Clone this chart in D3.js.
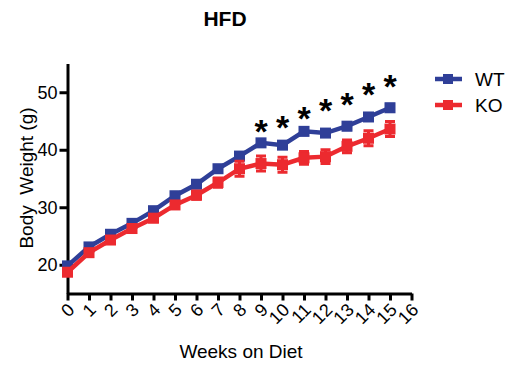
<!DOCTYPE html>
<html>
<head>
<script src="https://cdn.jsdelivr.net/npm/d3@7"></script>
<style>
  body { margin: 0; background: #fff; }
  text { font-family: "Liberation Sans", Arial, sans-serif; }
</style>
</head>
<body>
<script>
// weeks on diet
var weeks = [0, 1, 2, 3, 4, 5, 6, 7, 8, 9, 10, 11, 12, 13, 14, 15];
// mean body weight (g)
var wtMean = [19.8, 23.1, 25.3, 27.2, 29.4, 32.0, 34.0, 36.7, 38.9, 41.2, 40.8, 43.2, 42.9, 44.1, 45.7, 47.3];
var wtErr  = [0.4, 0.4, 0.4, 0.4, 0.4, 0.5, 0.5, 0.5, 0.5, 0.5, 0.6, 0.6, 0.6, 0.6, 0.6, 0.6];
var koMean = [18.7, 22.1, 24.3, 26.3, 28.1, 30.4, 32.1, 34.3, 36.7, 37.6, 37.4, 38.6, 38.8, 40.6, 42.0, 43.6];
var koErr  = [0.5, 0.5, 0.6, 0.6, 0.6, 0.6, 0.7, 0.8, 1.3, 1.3, 1.3, 1.1, 1.2, 1.1, 1.3, 1.3];
// significance marks (week, height in g)
var sigWeeks = [9, 10, 11, 12, 13, 14, 15];
var sigY = [44.5, 45.2, 46.7, 48.1, 49.2, 51.0, 52.3];
var xTicks = d3.range(0, 17);
var yTicks = [20, 30, 40, 50];

var blue = "#2f3f98", red = "#ec2a2f";

var svg = d3.select("body").append("svg")
    .attr("width", 509)
    .attr("height", 366);

var x = d3.scaleLinear().domain([0, 16]).range([67.5, 411.5]);
var y = d3.scaleLinear().domain([15, 55]).range([293.5, 63.5]);

// title
svg.append("text")
    .attr("x", 225).attr("y", 26)
    .attr("text-anchor", "middle")
    .style("font-size", "21px").style("font-weight", "bold")
    .text("HFD");

// x axis
var gx = svg.append("g")
    .attr("transform", "translate(0," + y(15) + ")")
    .call(d3.axisBottom(x).tickValues(xTicks).tickFormat(d3.format("d")).tickSize(7).tickSizeOuter(0));
gx.select(".domain").attr("stroke", "#000").attr("stroke-width", 3);
gx.selectAll(".tick line").attr("stroke", "#000").attr("stroke-width", 3);
gx.selectAll(".tick text")
    .attr("y", 0).attr("dy", "0.35em")
    .attr("transform", "translate(3,13) rotate(-45)")
    .attr("text-anchor", "end")
    .style("font-size", "18px").style("font-family", "Liberation Sans, Arial, sans-serif")
    .attr("fill", "#000");

// y axis
var gy = svg.append("g")
    .attr("transform", "translate(" + x(0) + ",0)")
    .call(d3.axisLeft(y).tickValues(yTicks).tickSize(8).tickSizeOuter(0));
gy.select(".domain").attr("stroke", "#000").attr("stroke-width", 3);
gy.selectAll(".tick line").attr("stroke", "#000").attr("stroke-width", 3);
gy.selectAll(".tick text")
    .attr("x", -10)
    .style("font-size", "18px").style("font-family", "Liberation Sans, Arial, sans-serif")
    .attr("fill", "#000");

// axis labels
svg.append("text")
    .attr("transform", "translate(33,178) rotate(-90)")
    .attr("text-anchor", "middle")
    .style("font-size", "19px")
    .attr("xml:space", "preserve")
    .text("Body  Weight (g)");

svg.append("text")
    .attr("x", 241).attr("y", 358)
    .attr("text-anchor", "middle")
    .style("font-size", "19px")
    .text("Weeks on Diet");

// series
function drawSeries(mean, err, color) {
  var pts = weeks.map(function(w, i) { return { w: w, m: mean[i], e: err[i] }; });
  var g = svg.append("g");
  g.selectAll(".eb").data(pts).enter().append("path")
      .attr("d", function(d) {
        var cx = x(d.w), y1 = y(d.m - d.e), y2 = y(d.m + d.e);
        return "M" + cx + "," + y1 + "V" + y2 +
               "M" + (cx - 5) + "," + y1 + "H" + (cx + 5) +
               "M" + (cx - 5) + "," + y2 + "H" + (cx + 5);
      })
      .attr("stroke", color).attr("stroke-width", 3).attr("fill", "none");
  g.append("path").datum(pts)
      .attr("d", d3.line().x(function(d) { return x(d.w); }).y(function(d) { return y(d.m); }))
      .attr("stroke", color).attr("stroke-width", 4.5).attr("fill", "none");
  g.selectAll("rect").data(pts).enter().append("rect")
      .attr("x", function(d) { return x(d.w) - 5.5; })
      .attr("y", function(d) { return y(d.m) - 5.5; })
      .attr("width", 11).attr("height", 11)
      .attr("fill", color);
}
drawSeries(wtMean, wtErr, blue);
drawSeries(koMean, koErr, red);

// asterisks
svg.selectAll(".sig").data(sigWeeks).enter().append("text")
    .attr("x", function(d) { return x(d); })
    .attr("y", function(d, i) { return y(sigY[i]) + 19; })
    .attr("text-anchor", "middle")
    .style("font-size", "34px").style("font-weight", "bold")
    .text("*");

// legend
var legend = [["WT", blue, 79], ["KO", red, 105]];
legend.forEach(function(l) {
  svg.append("line").attr("x1", 435).attr("x2", 462).attr("y1", l[2]).attr("y2", l[2])
      .attr("stroke", l[1]).attr("stroke-width", 4.5);
  svg.append("rect").attr("x", 443).attr("y", l[2] - 5).attr("width", 10).attr("height", 10).attr("fill", l[1]);
  svg.append("text").attr("x", 475).attr("y", l[2] + 7)
      .style("font-size", "19px").text(l[0]);
});
</script>
</body>
</html>
